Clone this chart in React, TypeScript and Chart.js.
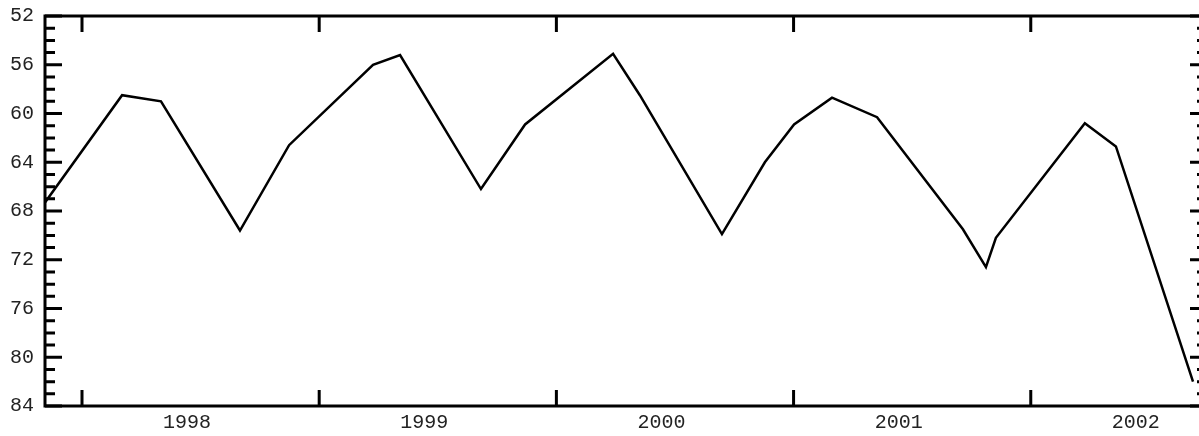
import React, { useEffect, useRef } from "react";
import { Chart, registerables } from "chart.js";

Chart.register(...registerables);

// Decimal-year positions of the line vertices and their values (axis is reversed: 52 top, 84 bottom)
const xYears = [
  1997.844, 1998.169, 1998.333, 1998.666, 1998.873, 1999.227, 1999.341, 1999.682,
  1999.868, 2000.239, 2000.352, 2000.698, 2000.879, 2001.002, 2001.162, 2001.352,
  2001.714, 2001.811, 2001.853, 2002.228, 2002.359, 2002.684,
];
const values = [
  67.3, 58.5, 59.0, 69.6, 62.6, 56.0, 55.2, 66.2,
  60.9, 55.1, 58.5, 69.9, 64.0, 60.9, 58.7, 60.3,
  69.5, 72.6, 70.2, 60.8, 62.7, 82.0,
];
const yearStarts = [1998, 1999, 2000, 2001, 2002];
const yearLabels = ["1998", "1999", "2000", "2001", "2002"];
const yTickLabels = [52, 56, 60, 64, 68, 72, 76, 80, 84];

const X_MIN = 1997.844;
const X_MAX = 2002.743;
const Y_MIN = 52;
const Y_MAX = 84;
const LABEL_OFFSET = 0.443;

const font = { family: "'Liberation Mono', 'Courier New', monospace", size: 20 };

const framePlugin = {
  id: "framePlugin",
  afterDraw(chart: any) {
    const { ctx, chartArea, scales } = chart;
    const { left, right, top, bottom } = chartArea;
    const x = scales.x;
    const y = scales.y;
    ctx.save();
    ctx.strokeStyle = "#000";
    ctx.lineWidth = 3;
    ctx.lineCap = "butt";
    ctx.beginPath();
    ctx.moveTo(left - 1.5, top);
    ctx.lineTo(right + 1.5, top);
    ctx.moveTo(left - 1.5, bottom);
    ctx.lineTo(right + 1.5, bottom);
    ctx.moveTo(left, top);
    ctx.lineTo(left, bottom);
    ctx.moveTo(right, top);
    ctx.lineTo(right, bottom);
    ctx.stroke();
    ctx.beginPath();
    for (let v = Y_MIN; v <= Y_MAX; v++) {
      const py = y.getPixelForValue(v);
      const len = v % 4 === 0 ? 17 : 10;
      ctx.moveTo(left, py);
      ctx.lineTo(left + len, py);
      ctx.moveTo(right, py);
      ctx.lineTo(right - len, py);
    }
    for (const yr of yearStarts) {
      const px = x.getPixelForValue(yr);
      ctx.moveTo(px, top);
      ctx.lineTo(px, top + 16);
      ctx.moveTo(px, bottom);
      ctx.lineTo(px, bottom - 16);
    }
    ctx.stroke();
    ctx.restore();
  },
};

export default function App() {
  const ref = useRef<HTMLCanvasElement | null>(null);
  useEffect(() => {
    document.body.style.margin = "0";
    document.body.style.overflow = "hidden";
    const canvas = ref.current;
    if (!canvas) return;
    const chart = new Chart(canvas, {
      type: "line",
      data: {
        datasets: [
          {
            data: xYears.map((xv, i) => ({ x: xv, y: values[i] })),
            borderColor: "#000",
            borderWidth: 2.5,
            pointRadius: 0,
            tension: 0,
            fill: false,
          },
        ],
      },
      options: {
        responsive: false,
        animation: false,
        events: [],
        layout: { padding: { top: 16, right: 9, left: 0, bottom: 0 } },
        plugins: { legend: { display: false }, tooltip: { enabled: false } },
        scales: {
          x: {
            type: "linear",
            min: X_MIN,
            max: X_MAX,
            grid: { display: false, drawTicks: false },
            border: { display: false },
            afterBuildTicks: (s: any) => {
              s.ticks = yearStarts.map((yr) => ({ value: yr + LABEL_OFFSET }));
            },
            afterFit: (s: any) => {
              s.height = 30;
              s.paddingLeft = 0;
              s.paddingRight = 0;
            },
            ticks: {
              autoSkip: false,
              maxRotation: 0,
              padding: 5,
              color: "#222",
              font,
              callback: (_v: any, i: number) => yearLabels[i],
            },
          },
          y: {
            type: "linear",
            min: Y_MIN,
            max: Y_MAX,
            reverse: true,
            grid: { display: false, drawTicks: false },
            border: { display: false },
            afterBuildTicks: (s: any) => {
              s.ticks = yTickLabels.map((v) => ({ value: v }));
            },
            afterFit: (s: any) => {
              s.width = 45;
              s.paddingTop = 0;
              s.paddingBottom = 0;
            },
            ticks: {
              padding: 11,
              color: "#222",
              font,
              callback: (v: any) => String(v),
            },
          },
        },
      },
      plugins: [framePlugin],
    });
    return () => chart.destroy();
  }, []);
  return (
    <div style={{ width: 1199, height: 436, overflow: "hidden" }}>
      <canvas ref={ref} width={1216} height={436} style={{ display: "block" }} />
    </div>
  );
}
